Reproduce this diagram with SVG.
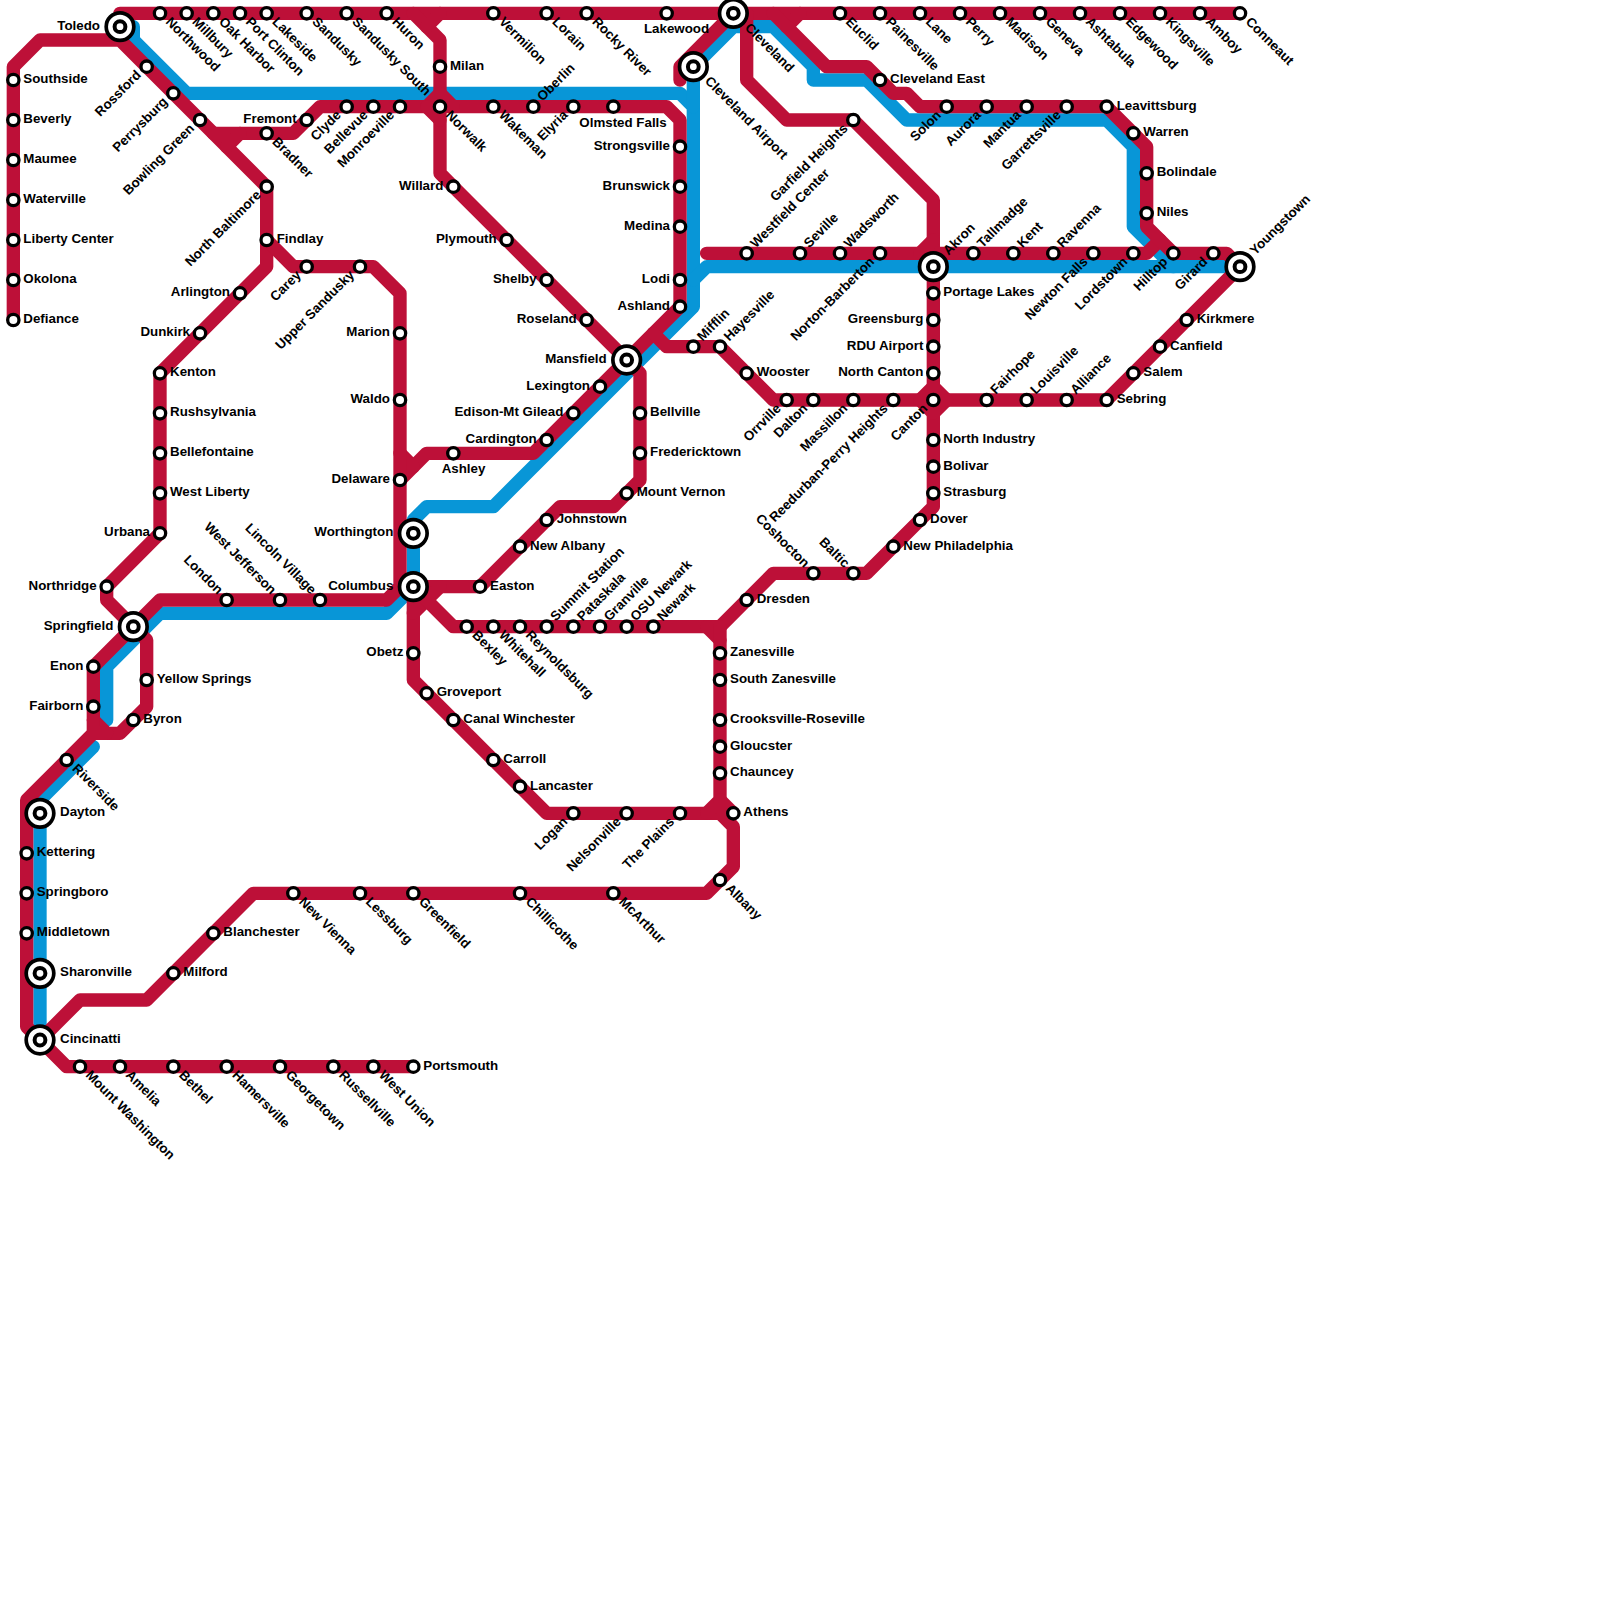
<svg xmlns="http://www.w3.org/2000/svg" width="1600" height="1600" viewBox="0 0 1600 1600">
<style>
rect.bg{fill:#fff}
#connectors path{fill:none;stroke-width:13.33;stroke-linecap:round;stroke-linejoin:round}
#connectors .b{stroke:#0896d7}
#connectors .r{stroke:#bd1038}
circle.s{fill:#fff;stroke:#000;stroke-width:3.3}
circle.h{fill:#fff;stroke:#000;stroke-width:3.7}
circle.c{fill:#fff;stroke:#000;stroke-width:4}
text{font-family:"Liberation Sans",Arial,sans-serif;font-weight:700;font-size:13.33px;fill:#000}
text.e{text-anchor:end}
</style>
<rect class="bg" width="1600" height="1600"/>
<g id="connectors">
<path class="b" d="M133.33 26.67V40L186.67 93.33H680L693.33 106.67V306.67L493.33 506.67H426.67L413.33 520V586.67L386.67 613.33H160L106.67 666.67V720"/>
<path class="b" d="M693.33 106.67V66.67L733.33 26.67H773.33L813.33 66.67V80H866.67L906.67 120H1106.67L1133.33 146.67V226.67L1160 253.33L1173.33 266.67"/>
<path class="b" d="M693.33 280L706.67 266.67H1240"/>
<path class="b" d="M93.33 746.67L40 800V1040"/>
<path class="r" d="M13.33 320V66.67L40 40H120L266.67 186.67V266.67L160 373.33V533.33L106.67 586.67V600L133.33 626.67"/>
<path class="r" d="M120 26.67V13.33H1240"/>
<path class="r" d="M413.33 13.33L440 40V173.33L453.33 186.67L626.67 360L640 373.33V480L613.33 506.67H560L480 586.67H413.33"/>
<path class="r" d="M440 13.33L426.67 26.67"/>
<path class="r" d="M213.33 133.33H293.33L320 106.67H666.67L680 120V306.67L533.33 453.33H426.67L400 480"/>
<path class="r" d="M240 133.33L226.67 146.67"/>
<path class="r" d="M400 453.33L413.33 466.67"/>
<path class="r" d="M426.67 106.67L440 93.33L453.33 106.67"/>
<path class="r" d="M426.67 106.67L440 120"/>
<path class="r" d="M266.67 240L293.33 266.67H373.33L400 293.33V586.67L386.67 600H160L93.33 666.67V720L106.67 733.33H120L146.67 706.67V640L133.33 626.67"/>
<path class="r" d="M106.67 733.33H93.33V720M93.33 733.33L26.67 800V1026.67L40 1040L66.67 1066.67H413.33"/>
<path class="r" d="M40 1040L80 1000H146.67L253.33 893.33H706.67L733.33 866.67V826.67L720 813.33H546.67L413.33 680V586.67"/>
<path class="r" d="M440 586.67L413.33 613.33"/>
<path class="r" d="M413.33 586.67L453.33 626.67H720L773.33 573.33H866.67L933.33 506.67V200L853.33 120H786.67L746.67 80V13.33"/>
<path class="r" d="M733.33 13.33L680 66.67V80"/>
<path class="r" d="M706.67 626.67L720 640"/>
<path class="r" d="M720 626.67V800L706.67 813.33"/>
<path class="r" d="M720 800L733.33 813.33"/>
<path class="r" d="M653.33 333.33L666.67 346.67H720L773.33 400H1106.67L1240 266.67"/>
<path class="r" d="M920 400L933.33 386.67L946.67 400L933.33 413.33Z"/>
<path class="r" d="M706.67 253.33H1146.67L1160 240"/>
<path class="r" d="M920 253.33L933.33 240"/>
<path class="r" d="M800 13.33L786.67 26.67"/>
<path class="r" d="M773.33 13.33L826.67 66.67H866.67L893.33 93.33H906.67L920 106.67H1106.67L1146.67 146.67V226.67L1173.33 253.33H1226.67L1240 266.67"/>
</g>
<g id="toledo" transform="translate(120,26.67)"><circle class="h" r="13.8"/><circle class="c" r="5.4"/><text class="e" x="-20" y="3">Toledo</text></g>
<g id="cleveland" transform="translate(733.33,13.33)"><circle class="h" r="13.8"/><circle class="c" r="5.4"/><text transform="rotate(45)" x="18.5" y="3">Cleveland</text></g>
<g id="cleveland-airport" transform="translate(693.33,66.67)"><circle class="h" r="13.8"/><circle class="c" r="5.4"/><text transform="rotate(45)" x="18.5" y="3">Cleveland Airport</text></g>
<g id="akron" transform="translate(933.33,266.67)"><circle class="h" r="13.8"/><circle class="c" r="5.4"/><text transform="rotate(-45)" x="18.5" y="3">Akron</text></g>
<g id="youngstown" transform="translate(1240,266.67)"><circle class="h" r="13.8"/><circle class="c" r="5.4"/><text transform="rotate(-45)" x="18.5" y="3">Youngstown</text></g>
<g id="mansfield" transform="translate(626.67,360)"><circle class="h" r="13.8"/><circle class="c" r="5.4"/><text class="e" x="-20" y="3">Mansfield</text></g>
<g id="worthington" transform="translate(413.33,533.33)"><circle class="h" r="13.8"/><circle class="c" r="5.4"/><text class="e" x="-20" y="3">Worthington</text></g>
<g id="columbus" transform="translate(413.33,586.67)"><circle class="h" r="13.8"/><circle class="c" r="5.4"/><text class="e" x="-20" y="3">Columbus</text></g>
<g id="springfield" transform="translate(133.33,626.67)"><circle class="h" r="13.8"/><circle class="c" r="5.4"/><text class="e" x="-20" y="3">Springfield</text></g>
<g id="dayton" transform="translate(40,813.33)"><circle class="h" r="13.8"/><circle class="c" r="5.4"/><text x="20" y="3">Dayton</text></g>
<g id="sharonville" transform="translate(40,973.33)"><circle class="h" r="13.8"/><circle class="c" r="5.4"/><text x="20" y="3">Sharonville</text></g>
<g id="cincinatti" transform="translate(40,1040)"><circle class="h" r="13.8"/><circle class="c" r="5.4"/><text x="20" y="3">Cincinatti</text></g>

<g id="southside" transform="translate(13.33,80)"><circle class="s" r="5.67"/><text x="10" y="3">Southside</text></g>
<g id="beverly" transform="translate(13.33,120)"><circle class="s" r="5.67"/><text x="10" y="3">Beverly</text></g>
<g id="maumee" transform="translate(13.33,160)"><circle class="s" r="5.67"/><text x="10" y="3">Maumee</text></g>
<g id="waterville" transform="translate(13.33,200)"><circle class="s" r="5.67"/><text x="10" y="3">Waterville</text></g>
<g id="liberty-center" transform="translate(13.33,240)"><circle class="s" r="5.67"/><text x="10" y="3">Liberty Center</text></g>
<g id="okolona" transform="translate(13.33,280)"><circle class="s" r="5.67"/><text x="10" y="3">Okolona</text></g>
<g id="defiance" transform="translate(13.33,320)"><circle class="s" r="5.67"/><text x="10" y="3">Defiance</text></g>

<g id="northwood" transform="translate(160,13.33)"><circle class="s" r="5.67"/><text transform="rotate(45)" x="10" y="3">Northwood</text></g>
<g id="millbury" transform="translate(186.67,13.33)"><circle class="s" r="5.67"/><text transform="rotate(45)" x="10" y="3">Millbury</text></g>
<g id="oak-harbor" transform="translate(213.33,13.33)"><circle class="s" r="5.67"/><text transform="rotate(45)" x="10" y="3">Oak Harbor</text></g>
<g id="port-clinton" transform="translate(240,13.33)"><circle class="s" r="5.67"/><text transform="rotate(45)" x="10" y="3">Port Clinton</text></g>
<g id="lakeside" transform="translate(266.67,13.33)"><circle class="s" r="5.67"/><text transform="rotate(45)" x="10" y="3">Lakeside</text></g>
<g id="sandusky" transform="translate(306.67,13.33)"><circle class="s" r="5.67"/><text transform="rotate(45)" x="10" y="3">Sandusky</text></g>
<g id="sandusky-south" transform="translate(346.67,13.33)"><circle class="s" r="5.67"/><text transform="rotate(45)" x="10" y="3">Sandusky South</text></g>
<g id="huron" transform="translate(386.67,13.33)"><circle class="s" r="5.67"/><text transform="rotate(45)" x="10" y="3">Huron</text></g>
<g id="vermilion" transform="translate(493.33,13.33)"><circle class="s" r="5.67"/><text transform="rotate(45)" x="10" y="3">Vermilion</text></g>
<g id="lorain" transform="translate(546.67,13.33)"><circle class="s" r="5.67"/><text transform="rotate(45)" x="10" y="3">Lorain</text></g>
<g id="rocky-river" transform="translate(586.67,13.33)"><circle class="s" r="5.67"/><text transform="rotate(45)" x="10" y="3">Rocky River</text></g>
<g id="lakewood" transform="translate(666.67,13.33)"><circle class="s" r="5.67"/><text x="-22.7" y="20">Lakewood</text></g>
<g id="euclid" transform="translate(840,13.33)"><circle class="s" r="5.67"/><text transform="rotate(45)" x="10" y="3">Euclid</text></g>
<g id="painesville" transform="translate(880,13.33)"><circle class="s" r="5.67"/><text transform="rotate(45)" x="10" y="3">Painesville</text></g>
<g id="lane" transform="translate(920,13.33)"><circle class="s" r="5.67"/><text transform="rotate(45)" x="10" y="3">Lane</text></g>
<g id="perry" transform="translate(960,13.33)"><circle class="s" r="5.67"/><text transform="rotate(45)" x="10" y="3">Perry</text></g>
<g id="madison" transform="translate(1000,13.33)"><circle class="s" r="5.67"/><text transform="rotate(45)" x="10" y="3">Madison</text></g>
<g id="geneva" transform="translate(1040,13.33)"><circle class="s" r="5.67"/><text transform="rotate(45)" x="10" y="3">Geneva</text></g>
<g id="ashtabula" transform="translate(1080,13.33)"><circle class="s" r="5.67"/><text transform="rotate(45)" x="10" y="3">Ashtabula</text></g>
<g id="edgewood" transform="translate(1120,13.33)"><circle class="s" r="5.67"/><text transform="rotate(45)" x="10" y="3">Edgewood</text></g>
<g id="kingsville" transform="translate(1160,13.33)"><circle class="s" r="5.67"/><text transform="rotate(45)" x="10" y="3">Kingsville</text></g>
<g id="amboy" transform="translate(1200,13.33)"><circle class="s" r="5.67"/><text transform="rotate(45)" x="10" y="3">Amboy</text></g>
<g id="conneaut" transform="translate(1240,13.33)"><circle class="s" r="5.67"/><text transform="rotate(45)" x="10" y="3">Conneaut</text></g>

<g id="rossford" transform="translate(146.67,66.67)"><circle class="s" r="5.67"/><text class="e" transform="rotate(-45)" x="-10" y="3">Rossford</text></g>
<g id="perrysburg" transform="translate(173.33,93.33)"><circle class="s" r="5.67"/><text class="e" transform="rotate(-45)" x="-10" y="3">Perrysburg</text></g>
<g id="bowling-green" transform="translate(200,120)"><circle class="s" r="5.67"/><text class="e" transform="rotate(-45)" x="-10" y="3">Bowling Green</text></g>
<g id="bradner" transform="translate(266.67,133.33)"><circle class="s" r="5.67"/><text transform="rotate(45)" x="10" y="3">Bradner</text></g>
<g id="fremont" transform="translate(306.67,120)"><circle class="s" r="5.67"/><text class="e" x="-10" y="3">Fremont</text></g>
<g id="clyde" transform="translate(346.67,106.67)"><circle class="s" r="5.67"/><text class="e" transform="rotate(-45)" x="-10" y="3">Clyde</text></g>
<g id="bellevue" transform="translate(373.33,106.67)"><circle class="s" r="5.67"/><text class="e" transform="rotate(-45)" x="-10" y="3">Bellevue</text></g>
<g id="monroeville" transform="translate(400,106.67)"><circle class="s" r="5.67"/><text class="e" transform="rotate(-45)" x="-10" y="3">Monroeville</text></g>
<g id="norwalk" transform="translate(440,106.67)"><circle class="s" r="5.67"/><text transform="rotate(45)" x="10" y="3">Norwalk</text></g>
<g id="milan" transform="translate(440,66.67)"><circle class="s" r="5.67"/><text x="10" y="3">Milan</text></g>
<g id="willard" transform="translate(453.33,186.67)"><circle class="s" r="5.67"/><text class="e" x="-10" y="3">Willard</text></g>
<g id="north-baltimore" transform="translate(266.67,186.67)"><circle class="s" r="5.67"/><text class="e" transform="rotate(-45)" x="-10" y="3">North Baltimore</text></g>
<g id="findlay" transform="translate(266.67,240)"><circle class="s" r="5.67"/><text x="10" y="3">Findlay</text></g>
<g id="carey" transform="translate(306.67,266.67)"><circle class="s" r="5.67"/><text class="e" transform="rotate(-45)" x="-10" y="3">Carey</text></g>
<g id="upper-sandusky" transform="translate(360,266.67)"><circle class="s" r="5.67"/><text class="e" transform="rotate(-45)" x="-10" y="3">Upper Sandusky</text></g>
<g id="marion" transform="translate(400,333.33)"><circle class="s" r="5.67"/><text class="e" x="-10" y="3">Marion</text></g>
<g id="waldo" transform="translate(400,400)"><circle class="s" r="5.67"/><text class="e" x="-10" y="3">Waldo</text></g>
<g id="delaware" transform="translate(400,480)"><circle class="s" r="5.67"/><text class="e" x="-10" y="3">Delaware</text></g>
<g id="arlington" transform="translate(240,293.33)"><circle class="s" r="5.67"/><text class="e" x="-10" y="3">Arlington</text></g>
<g id="dunkirk" transform="translate(200,333.33)"><circle class="s" r="5.67"/><text class="e" x="-10" y="3">Dunkirk</text></g>
<g id="kenton" transform="translate(160,373.33)"><circle class="s" r="5.67"/><text x="10" y="3">Kenton</text></g>
<g id="rushsylvania" transform="translate(160,413.33)"><circle class="s" r="5.67"/><text x="10" y="3">Rushsylvania</text></g>
<g id="bellefontaine" transform="translate(160,453.33)"><circle class="s" r="5.67"/><text x="10" y="3">Bellefontaine</text></g>
<g id="west-liberty" transform="translate(160,493.33)"><circle class="s" r="5.67"/><text x="10" y="3">West Liberty</text></g>
<g id="urbana" transform="translate(160,533.33)"><circle class="s" r="5.67"/><text class="e" x="-10" y="3">Urbana</text></g>
<g id="northridge" transform="translate(106.67,586.67)"><circle class="s" r="5.67"/><text class="e" x="-10" y="3">Northridge</text></g>

<g id="wakeman" transform="translate(493.33,106.67)"><circle class="s" r="5.67"/><text transform="rotate(45)" x="10" y="3">Wakeman</text></g>
<g id="oberlin" transform="translate(533.33,106.67)"><circle class="s" r="5.67"/><text transform="rotate(-45)" x="10" y="3">Oberlin</text></g>
<g id="elyria" transform="translate(573.33,106.67)"><circle class="s" r="5.67"/><text class="e" transform="rotate(-45)" x="-10" y="3">Elyria</text></g>
<g id="olmsted-falls" transform="translate(613.33,106.67)"><circle class="s" r="5.67"/><text x="-34" y="20">Olmsted Falls</text></g>
<g id="strongsville" transform="translate(680,146.67)"><circle class="s" r="5.67"/><text class="e" x="-10" y="3">Strongsville</text></g>
<g id="brunswick" transform="translate(680,186.67)"><circle class="s" r="5.67"/><text class="e" x="-10" y="3">Brunswick</text></g>
<g id="medina" transform="translate(680,226.67)"><circle class="s" r="5.67"/><text class="e" x="-10" y="3">Medina</text></g>
<g id="lodi" transform="translate(680,280)"><circle class="s" r="5.67"/><text class="e" x="-10" y="3">Lodi</text></g>
<g id="ashland" transform="translate(680,306.67)"><circle class="s" r="5.67"/><text class="e" x="-10" y="3">Ashland</text></g>
<g id="plymouth" transform="translate(506.67,240)"><circle class="s" r="5.67"/><text class="e" x="-10" y="3">Plymouth</text></g>
<g id="shelby" transform="translate(546.67,280)"><circle class="s" r="5.67"/><text class="e" x="-10" y="3">Shelby</text></g>
<g id="roseland" transform="translate(586.67,320)"><circle class="s" r="5.67"/><text class="e" x="-10" y="3">Roseland</text></g>
<g id="lexington" transform="translate(600,386.67)"><circle class="s" r="5.67"/><text class="e" x="-10" y="3">Lexington</text></g>
<g id="edison-mt-gilead" transform="translate(573.33,413.33)"><circle class="s" r="5.67"/><text class="e" x="-10" y="3">Edison-Mt Gilead</text></g>
<g id="cardington" transform="translate(546.67,440)"><circle class="s" r="5.67"/><text class="e" x="-10" y="3">Cardington</text></g>
<g id="ashley" transform="translate(453.33,453.33)"><circle class="s" r="5.67"/><text x="-11.7" y="20">Ashley</text></g>
<g id="mifflin" transform="translate(693.33,346.67)"><circle class="s" r="5.67"/><text transform="rotate(-45)" x="10" y="3">Mifflin</text></g>
<g id="hayesville" transform="translate(720,346.67)"><circle class="s" r="5.67"/><text transform="rotate(-45)" x="10" y="3">Hayesville</text></g>
<g id="wooster" transform="translate(746.67,373.33)"><circle class="s" r="5.67"/><text x="10" y="3">Wooster</text></g>
<g id="orrville" transform="translate(786.67,400)"><circle class="s" r="5.67"/><text class="e" transform="rotate(-45)" x="-10" y="3">Orrville</text></g>
<g id="dalton" transform="translate(813.33,400)"><circle class="s" r="5.67"/><text class="e" transform="rotate(-45)" x="-10" y="3">Dalton</text></g>
<g id="massillon" transform="translate(853.33,400)"><circle class="s" r="5.67"/><text class="e" transform="rotate(-45)" x="-10" y="3">Massillon</text></g>
<g id="reedurban-perry-heights" transform="translate(893.33,400)"><circle class="s" r="5.67"/><text class="e" transform="rotate(-45)" x="-10" y="3">Reedurban-Perry Heights</text></g>
<g id="canton" transform="translate(933.33,400)"><circle class="s" r="5.67"/><text class="e" transform="rotate(-45)" x="-10" y="3">Canton</text></g>
<g id="fairhope" transform="translate(986.67,400)"><circle class="s" r="5.67"/><text transform="rotate(-45)" x="10" y="3">Fairhope</text></g>
<g id="louisville" transform="translate(1026.67,400)"><circle class="s" r="5.67"/><text transform="rotate(-45)" x="10" y="3">Louisville</text></g>
<g id="alliance" transform="translate(1066.67,400)"><circle class="s" r="5.67"/><text transform="rotate(-45)" x="10" y="3">Alliance</text></g>
<g id="sebring" transform="translate(1106.67,400)"><circle class="s" r="5.67"/><text x="10" y="3">Sebring</text></g>
<g id="salem" transform="translate(1133.33,373.33)"><circle class="s" r="5.67"/><text x="10" y="3">Salem</text></g>
<g id="canfield" transform="translate(1160,346.67)"><circle class="s" r="5.67"/><text x="10" y="3">Canfield</text></g>
<g id="kirkmere" transform="translate(1186.67,320)"><circle class="s" r="5.67"/><text x="10" y="3">Kirkmere</text></g>

<g id="bellville" transform="translate(640,413.33)"><circle class="s" r="5.67"/><text x="10" y="3">Bellville</text></g>
<g id="fredericktown" transform="translate(640,453.33)"><circle class="s" r="5.67"/><text x="10" y="3">Fredericktown</text></g>
<g id="mount-vernon" transform="translate(626.67,493.33)"><circle class="s" r="5.67"/><text x="10" y="3">Mount Vernon</text></g>
<g id="johnstown" transform="translate(546.67,520)"><circle class="s" r="5.67"/><text x="10" y="3">Johnstown</text></g>
<g id="new-albany" transform="translate(520,546.67)"><circle class="s" r="5.67"/><text x="10" y="3">New Albany</text></g>
<g id="easton" transform="translate(480,586.67)"><circle class="s" r="5.67"/><text x="10" y="3">Easton</text></g>
<g id="bexley" transform="translate(466.67,626.67)"><circle class="s" r="5.67"/><text transform="rotate(45)" x="10" y="3">Bexley</text></g>
<g id="whitehall" transform="translate(493.33,626.67)"><circle class="s" r="5.67"/><text transform="rotate(45)" x="10" y="3">Whitehall</text></g>
<g id="reynoldsburg" transform="translate(520,626.67)"><circle class="s" r="5.67"/><text transform="rotate(45)" x="10" y="3">Reynoldsburg</text></g>
<g id="summit-station" transform="translate(546.67,626.67)"><circle class="s" r="5.67"/><text transform="rotate(-45)" x="10" y="3">Summit Station</text></g>
<g id="pataskala" transform="translate(573.33,626.67)"><circle class="s" r="5.67"/><text transform="rotate(-45)" x="10" y="3">Pataskala</text></g>
<g id="granville" transform="translate(600,626.67)"><circle class="s" r="5.67"/><text transform="rotate(-45)" x="10" y="3">Granville</text></g>
<g id="osu-newark" transform="translate(626.67,626.67)"><circle class="s" r="5.67"/><text transform="rotate(-45)" x="10" y="3">OSU Newark</text></g>
<g id="newark" transform="translate(653.33,626.67)"><circle class="s" r="5.67"/><text transform="rotate(-45)" x="10" y="3">Newark</text></g>
<g id="zanesville" transform="translate(720,653.33)"><circle class="s" r="5.67"/><text x="10" y="3">Zanesville</text></g>
<g id="south-zanesville" transform="translate(720,680)"><circle class="s" r="5.67"/><text x="10" y="3">South Zanesville</text></g>
<g id="crooksville-roseville" transform="translate(720,720)"><circle class="s" r="5.67"/><text x="10" y="3">Crooksville-Roseville</text></g>
<g id="gloucster" transform="translate(720,746.67)"><circle class="s" r="5.67"/><text x="10" y="3">Gloucster</text></g>
<g id="chauncey" transform="translate(720,773.33)"><circle class="s" r="5.67"/><text x="10" y="3">Chauncey</text></g>
<g id="athens" transform="translate(733.33,813.33)"><circle class="s" r="5.67"/><text x="10" y="3">Athens</text></g>
<g id="the-plains" transform="translate(680,813.33)"><circle class="s" r="5.67"/><text class="e" transform="rotate(-45)" x="-10" y="3">The Plains</text></g>
<g id="nelsonville" transform="translate(626.67,813.33)"><circle class="s" r="5.67"/><text class="e" transform="rotate(-45)" x="-10" y="3">Nelsonville</text></g>
<g id="logan" transform="translate(573.33,813.33)"><circle class="s" r="5.67"/><text class="e" transform="rotate(-45)" x="-10" y="3">Logan</text></g>
<g id="lancaster" transform="translate(520,786.67)"><circle class="s" r="5.67"/><text x="10" y="3">Lancaster</text></g>
<g id="carroll" transform="translate(493.33,760)"><circle class="s" r="5.67"/><text x="10" y="3">Carroll</text></g>
<g id="canal-winchester" transform="translate(453.33,720)"><circle class="s" r="5.67"/><text x="10" y="3">Canal Winchester</text></g>
<g id="groveport" transform="translate(426.67,693.33)"><circle class="s" r="5.67"/><text x="10" y="3">Groveport</text></g>
<g id="obetz" transform="translate(413.33,653.33)"><circle class="s" r="5.67"/><text class="e" x="-10" y="3">Obetz</text></g>
<g id="dresden" transform="translate(746.67,600)"><circle class="s" r="5.67"/><text x="10" y="3">Dresden</text></g>
<g id="coshocton" transform="translate(813.33,573.33)"><circle class="s" r="5.67"/><text class="e" transform="rotate(45)" x="-10" y="3">Coshocton</text></g>
<g id="baltic" transform="translate(853.33,573.33)"><circle class="s" r="5.67"/><text class="e" transform="rotate(45)" x="-10" y="3">Baltic</text></g>
<g id="new-philadelphia" transform="translate(893.33,546.67)"><circle class="s" r="5.67"/><text x="10" y="3">New Philadelphia</text></g>
<g id="dover" transform="translate(920,520)"><circle class="s" r="5.67"/><text x="10" y="3">Dover</text></g>
<g id="strasburg" transform="translate(933.33,493.33)"><circle class="s" r="5.67"/><text x="10" y="3">Strasburg</text></g>
<g id="bolivar" transform="translate(933.33,466.67)"><circle class="s" r="5.67"/><text x="10" y="3">Bolivar</text></g>
<g id="north-industry" transform="translate(933.33,440)"><circle class="s" r="5.67"/><text x="10" y="3">North Industry</text></g>
<g id="north-canton" transform="translate(933.33,373.33)"><circle class="s" r="5.67"/><text class="e" x="-10" y="3">North Canton</text></g>
<g id="rdu-airport" transform="translate(933.33,346.67)"><circle class="s" r="5.67"/><text class="e" x="-10" y="3">RDU Airport</text></g>
<g id="greensburg" transform="translate(933.33,320)"><circle class="s" r="5.67"/><text class="e" x="-10" y="3">Greensburg</text></g>
<g id="portage-lakes" transform="translate(933.33,293.33)"><circle class="s" r="5.67"/><text x="10" y="3">Portage Lakes</text></g>

<g id="westfield-center" transform="translate(746.67,253.33)"><circle class="s" r="5.67"/><text transform="rotate(-45)" x="10" y="3">Westfield Center</text></g>
<g id="seville" transform="translate(800,253.33)"><circle class="s" r="5.67"/><text transform="rotate(-45)" x="10" y="3">Seville</text></g>
<g id="wadsworth" transform="translate(840,253.33)"><circle class="s" r="5.67"/><text transform="rotate(-45)" x="10" y="3">Wadsworth</text></g>
<g id="norton-barberton" transform="translate(880,253.33)"><circle class="s" r="5.67"/><text class="e" transform="rotate(-45)" x="-10" y="3">Norton-Barberton</text></g>
<g id="tallmadge" transform="translate(973.33,253.33)"><circle class="s" r="5.67"/><text transform="rotate(-45)" x="10" y="3">Tallmadge</text></g>
<g id="kent" transform="translate(1013.33,253.33)"><circle class="s" r="5.67"/><text transform="rotate(-45)" x="10" y="3">Kent</text></g>
<g id="ravenna" transform="translate(1053.33,253.33)"><circle class="s" r="5.67"/><text transform="rotate(-45)" x="10" y="3">Ravenna</text></g>
<g id="newton-falls" transform="translate(1093.33,253.33)"><circle class="s" r="5.67"/><text class="e" transform="rotate(-45)" x="-10" y="3">Newton Falls</text></g>
<g id="lordstown" transform="translate(1133.33,253.33)"><circle class="s" r="5.67"/><text class="e" transform="rotate(-45)" x="-10" y="3">Lordstown</text></g>
<g id="hilltop" transform="translate(1173.33,253.33)"><circle class="s" r="5.67"/><text class="e" transform="rotate(-45)" x="-10" y="3">Hilltop</text></g>
<g id="girard" transform="translate(1213.33,253.33)"><circle class="s" r="5.67"/><text class="e" transform="rotate(-45)" x="-10" y="3">Girard</text></g>

<g id="garfield-heights" transform="translate(853.33,120)"><circle class="s" r="5.67"/><text class="e" transform="rotate(-45)" x="-10" y="3">Garfield Heights</text></g>
<g id="cleveland-east" transform="translate(880,80)"><circle class="s" r="5.67"/><text x="10" y="3">Cleveland East</text></g>
<g id="solon" transform="translate(946.67,106.67)"><circle class="s" r="5.67"/><text class="e" transform="rotate(-45)" x="-10" y="3">Solon</text></g>
<g id="aurora" transform="translate(986.67,106.67)"><circle class="s" r="5.67"/><text class="e" transform="rotate(-45)" x="-10" y="3">Aurora</text></g>
<g id="mantua" transform="translate(1026.67,106.67)"><circle class="s" r="5.67"/><text class="e" transform="rotate(-45)" x="-10" y="3">Mantua</text></g>
<g id="garrettsville" transform="translate(1066.67,106.67)"><circle class="s" r="5.67"/><text class="e" transform="rotate(-45)" x="-10" y="3">Garrettsville</text></g>
<g id="leavittsburg" transform="translate(1106.67,106.67)"><circle class="s" r="5.67"/><text x="10" y="3">Leavittsburg</text></g>
<g id="warren" transform="translate(1133.33,133.33)"><circle class="s" r="5.67"/><text x="10" y="3">Warren</text></g>
<g id="bolindale" transform="translate(1146.67,173.33)"><circle class="s" r="5.67"/><text x="10" y="3">Bolindale</text></g>
<g id="niles" transform="translate(1146.67,213.33)"><circle class="s" r="5.67"/><text x="10" y="3">Niles</text></g>

<g id="london" transform="translate(226.67,600)"><circle class="s" r="5.67"/><text class="e" transform="rotate(45)" x="-10" y="3">London</text></g>
<g id="west-jefferson" transform="translate(280,600)"><circle class="s" r="5.67"/><text class="e" transform="rotate(45)" x="-10" y="3">West Jefferson</text></g>
<g id="lincoln-village" transform="translate(320,600)"><circle class="s" r="5.67"/><text class="e" transform="rotate(45)" x="-10" y="3">Lincoln Village</text></g>
<g id="enon" transform="translate(93.33,666.67)"><circle class="s" r="5.67"/><text class="e" x="-10" y="3">Enon</text></g>
<g id="fairborn" transform="translate(93.33,706.67)"><circle class="s" r="5.67"/><text class="e" x="-10" y="3">Fairborn</text></g>
<g id="yellow-springs" transform="translate(146.67,680)"><circle class="s" r="5.67"/><text x="10" y="3">Yellow Springs</text></g>
<g id="byron" transform="translate(133.33,720)"><circle class="s" r="5.67"/><text x="10" y="3">Byron</text></g>
<g id="riverside" transform="translate(66.67,760)"><circle class="s" r="5.67"/><text transform="rotate(45)" x="10" y="3">Riverside</text></g>
<g id="kettering" transform="translate(26.67,853.33)"><circle class="s" r="5.67"/><text x="10" y="3">Kettering</text></g>
<g id="springboro" transform="translate(26.67,893.33)"><circle class="s" r="5.67"/><text x="10" y="3">Springboro</text></g>
<g id="middletown" transform="translate(26.67,933.33)"><circle class="s" r="5.67"/><text x="10" y="3">Middletown</text></g>
<g id="mount-washington" transform="translate(80,1066.67)"><circle class="s" r="5.67"/><text transform="rotate(45)" x="10" y="3">Mount Washington</text></g>
<g id="amelia" transform="translate(120,1066.67)"><circle class="s" r="5.67"/><text transform="rotate(45)" x="10" y="3">Amelia</text></g>
<g id="bethel" transform="translate(173.33,1066.67)"><circle class="s" r="5.67"/><text transform="rotate(45)" x="10" y="3">Bethel</text></g>
<g id="hamersville" transform="translate(226.67,1066.67)"><circle class="s" r="5.67"/><text transform="rotate(45)" x="10" y="3">Hamersville</text></g>
<g id="georgetown" transform="translate(280,1066.67)"><circle class="s" r="5.67"/><text transform="rotate(45)" x="10" y="3">Georgetown</text></g>
<g id="russellville" transform="translate(333.33,1066.67)"><circle class="s" r="5.67"/><text transform="rotate(45)" x="10" y="3">Russellville</text></g>
<g id="west-union" transform="translate(373.33,1066.67)"><circle class="s" r="5.67"/><text transform="rotate(45)" x="10" y="3">West Union</text></g>
<g id="portsmouth" transform="translate(413.33,1066.67)"><circle class="s" r="5.67"/><text x="10" y="3">Portsmouth</text></g>
<g id="milford" transform="translate(173.33,973.33)"><circle class="s" r="5.67"/><text x="10" y="3">Milford</text></g>
<g id="blanchester" transform="translate(213.33,933.33)"><circle class="s" r="5.67"/><text x="10" y="3">Blanchester</text></g>
<g id="new-vienna" transform="translate(293.33,893.33)"><circle class="s" r="5.67"/><text transform="rotate(45)" x="10" y="3">New Vienna</text></g>
<g id="lessburg" transform="translate(360,893.33)"><circle class="s" r="5.67"/><text transform="rotate(45)" x="10" y="3">Lessburg</text></g>
<g id="greenfield" transform="translate(413.33,893.33)"><circle class="s" r="5.67"/><text transform="rotate(45)" x="10" y="3">Greenfield</text></g>
<g id="chillicothe" transform="translate(520,893.33)"><circle class="s" r="5.67"/><text transform="rotate(45)" x="10" y="3">Chillicothe</text></g>
<g id="mcarthur" transform="translate(613.33,893.33)"><circle class="s" r="5.67"/><text transform="rotate(45)" x="10" y="3">McArthur</text></g>
<g id="albany" transform="translate(720,880)"><circle class="s" r="5.67"/><text transform="rotate(45)" x="10" y="3">Albany</text></g>
</svg>
